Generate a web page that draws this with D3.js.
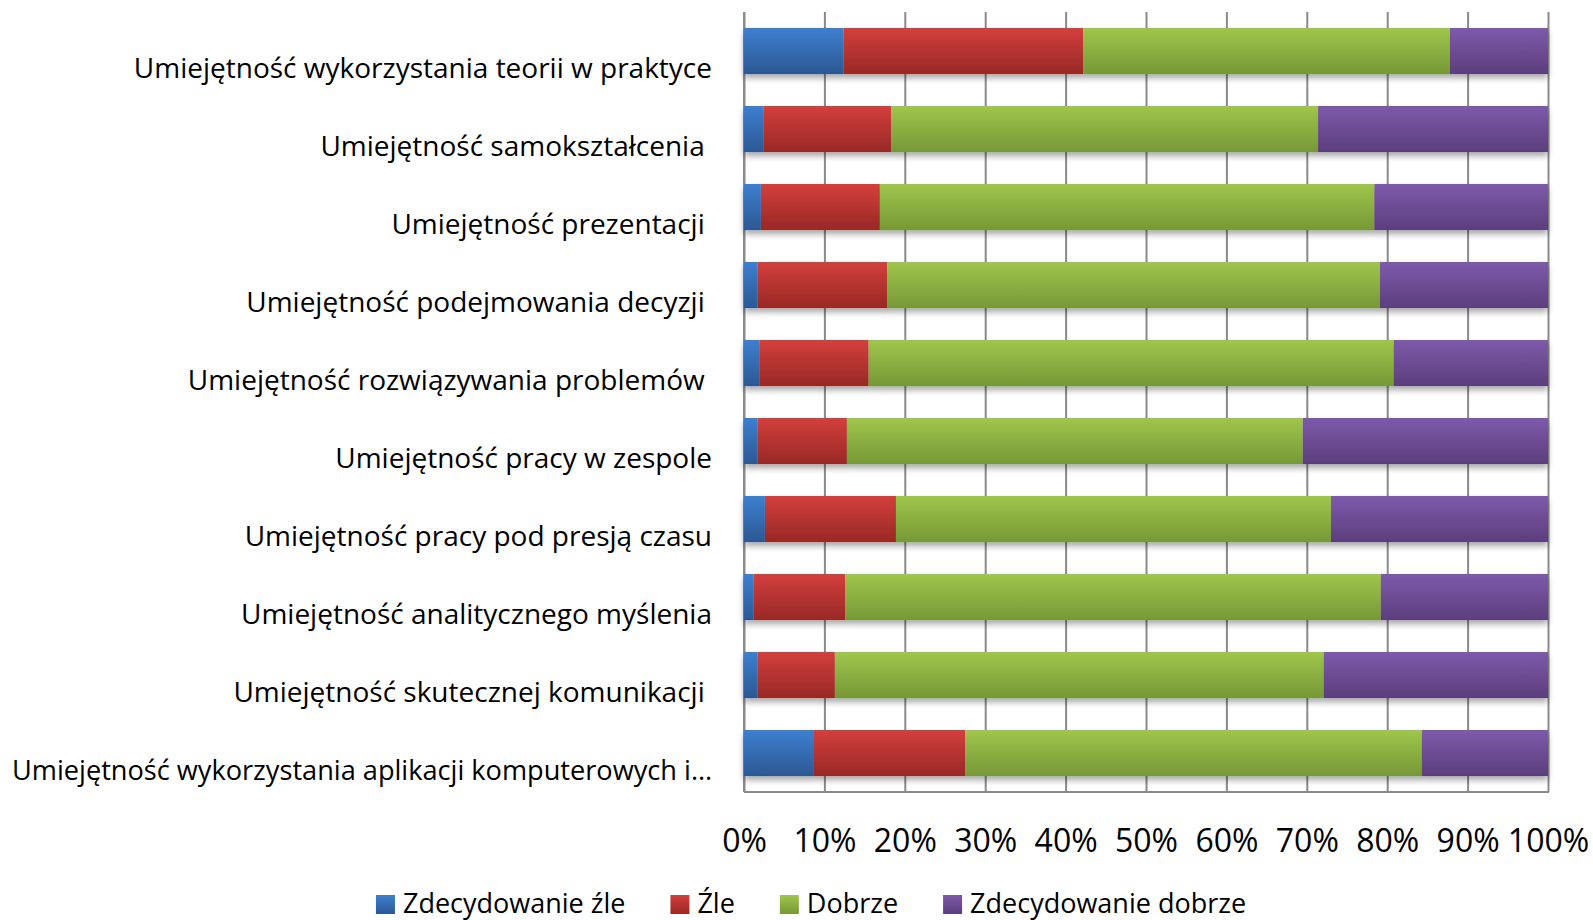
<!DOCTYPE html>
<html>
<head>
<meta charset="utf-8">
<script src="https://cdn.jsdelivr.net/npm/d3@7"></script>
<style>
  body { margin: 0; background: #fff; }
  text { font-family: "Open Sans", sans-serif; fill: #000; white-space: pre; }
</style>
</head>
<body>
<svg id="chart" width="1593" height="920"></svg>
<script>
// categories, top to bottom
const categories = [
  "Umiejętność wykorzystania teorii w praktyce",
  "Umiejętność samokształcenia ",
  "Umiejętność prezentacji ",
  "Umiejętność podejmowania decyzji ",
  "Umiejętność rozwiązywania problemów ",
  "Umiejętność pracy w zespole",
  "Umiejętność pracy pod presją czasu",
  "Umiejętność analitycznego myślenia",
  "Umiejętność skutecznej komunikacji ",
  "Umiejętność wykorzystania aplikacji komputerowych i…"
]
const seriesNames = ["Zdecydowanie źle", "Źle", "Dobrze", "Zdecydowanie dobrze"]
// percent values per category
const zdecydowanieZle    = [12.4,  2.4,  2.1,  1.7,  1.9,  1.7,  2.6,  1.2,  1.7,  8.6]
const zle                = [29.8, 15.9, 14.8, 16.1, 13.6, 11.1, 16.3, 11.4,  9.6, 18.9]
const dobrze             = [45.6, 53.1, 61.5, 61.3, 65.3, 56.7, 54.1, 66.6, 60.8, 56.8]
const zdecydowanieDobrze = [12.2, 28.6, 21.6, 20.9, 19.2, 30.5, 27.0, 20.8, 27.9, 15.7]
const xTicks = [0, 0.1, 0.2, 0.3, 0.4, 0.5, 0.6, 0.7, 0.8, 0.9, 1]

const colors = {
  "Zdecydowanie źle":    ["#3e7fd0", "#2c5893"],
  "Źle":                 ["#d33f3c", "#982825"],
  "Dobrze":              ["#9fc64c", "#769836"],
  "Zdecydowanie dobrze": ["#7e5aab", "#5b3e7c"]
}

const rows = categories.map((c, i) => ({
  cat: c,
  "Zdecydowanie źle": zdecydowanieZle[i],
  "Źle": zle[i],
  "Dobrze": dobrze[i],
  "Zdecydowanie dobrze": zdecydowanieDobrze[i]
}))

const svg = d3.select("#chart")
const plotLeft = 744, plotRight = 1548, plotTop = 12, plotBottom = 792

// gradients + shadow
const defs = svg.append("defs")
seriesNames.forEach((s, i) => {
  const g = defs.append("linearGradient").attr("id", "grad" + i)
    .attr("x1", 0).attr("y1", 0).attr("x2", 0).attr("y2", 1)
  g.append("stop").attr("offset", "0%").attr("stop-color", colors[s][0])
  g.append("stop").attr("offset", "100%").attr("stop-color", colors[s][1])
})
defs.append("filter").attr("id", "shadow")
  .attr("x", "-5%").attr("y", "-20%").attr("width", "110%").attr("height", "160%")
  .append("feDropShadow")
  .attr("dx", 0).attr("dy", 4).attr("stdDeviation", 3)
  .attr("flood-color", "#000").attr("flood-opacity", 0.35)

// scales
var x = d3.scaleLinear().domain([0, 1]).range([plotLeft, plotRight])
var y = d3.scaleBand().domain(categories).range([plotTop, plotBottom])
  .paddingInner(0.41).paddingOuter(0.205)

// gridlines
svg.append("g")
  .attr("transform", `translate(0,${plotBottom})`)
  .call(d3.axisBottom(x).tickValues(xTicks).tickSize(-(plotBottom - plotTop)).tickFormat(""))
  .call(g => g.select(".domain").remove())
  .selectAll("line").attr("stroke", "#8a8a8a").attr("stroke-width", 2)

// axis lines
svg.append("line").attr("x1", plotLeft).attr("x2", plotRight + 1)
  .attr("y1", plotBottom).attr("y2", plotBottom).attr("stroke", "#8a8a8a").attr("stroke-width", 2)
svg.append("line").attr("x1", plotLeft).attr("x2", plotLeft)
  .attr("y1", plotTop).attr("y2", plotBottom).attr("stroke", "#8a8a8a").attr("stroke-width", 2)

// stacked bars (100% stacked)
const stacked = d3.stack().keys(seriesNames).offset(d3.stackOffsetExpand)(rows)

const rowG = svg.append("g").selectAll("g.row")
  .data(categories)
  .join("g").attr("class", "row").attr("filter", "url(#shadow)")

rowG.selectAll("rect")
  .data((c, i) => stacked.map((s, k) => ({ k, seg: s[i], cat: c })))
  .join("rect")
  .attr("x", d => x(d.seg[0]))
  .attr("y", d => y(d.cat))
  .attr("width", d => x(d.seg[1]) - x(d.seg[0]))
  .attr("height", y.bandwidth())
  .attr("fill", d => `url(#grad${d.k})`)

// category labels
const labelPad = 32
const yAx = svg.append("g")
  .attr("transform", `translate(${plotLeft},0)`)
  .call(d3.axisLeft(y).tickSize(0).tickPadding(labelPad))
yAx.select(".domain").remove()
yAx.selectAll("text")
  .attr("font-family", "Open Sans").attr("font-size", 28)
  .attr("dy", null).attr("y", 27)
  .each(function() {
    // keep long labels inside the page
    const maxW = plotLeft - labelPad - 12
    if (this.getComputedTextLength() > maxW)
      d3.select(this).attr("textLength", maxW).attr("lengthAdjust", "spacingAndGlyphs")
  })

// x tick labels
const xAx = svg.append("g")
  .attr("transform", `translate(0,${plotBottom})`)
  .call(d3.axisBottom(x).tickValues(xTicks).tickSize(0).tickFormat(d3.format(".0%")))
xAx.select(".domain").remove()
xAx.selectAll("text")
  .attr("font-family", "Open Sans").attr("font-size", 32)
  .attr("dy", null).attr("y", 60)

// legend
const legend = svg.append("g")
const items = legend.selectAll("g").data(seriesNames).join("g")
items.append("rect").attr("width", 19).attr("height", 19).attr("y", 895)
  .attr("fill", (d, i) => `url(#grad${i})`)
items.append("text").attr("x", 27).attr("y", 913)
  .attr("font-size", 27).text(d => d)
const widths = []
items.each(function() { widths.push(this.getBBox().width) })
const total = d3.sum(widths) + 45 * (widths.length - 1)
let pos = 811 - total / 2
items.attr("transform", (d, i) => {
  const t = `translate(${pos},0)`
  pos += widths[i] + 45
  return t
})
</script>
</body>
</html>
